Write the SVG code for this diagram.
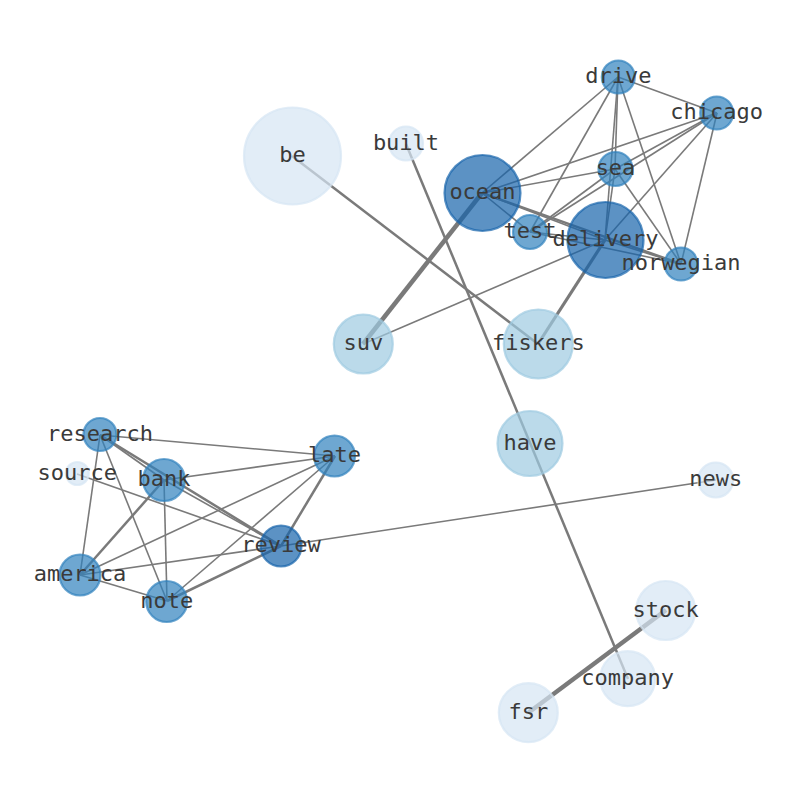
<svg xmlns="http://www.w3.org/2000/svg" width="794" height="790" viewBox="0 0 794 790">
<style>
.e{stroke:#7a7a7a;stroke-linecap:butt;fill:none}
.w1{stroke-width:1.6}
.w2{stroke-width:2.5}
.w3{stroke-width:3.2}
.w4{stroke-width:4.5}
.n circle{stroke-width:2.2;fill-opacity:0.7;stroke-opacity:0.7}
.d circle{fill:#1764ab;stroke:#1764ab}
.m circle{fill:#3182bd;stroke:#3182bd}
.l circle{fill:#9ecae1;stroke:#9ecae1}
.v circle{fill:#d6e6f4;stroke:#d6e6f4}
text{font-family:"DejaVu Sans Mono","Liberation Mono",monospace;font-size:22px;fill:#3a3a3a;text-anchor:middle}
</style>
<rect width="794" height="790" fill="#ffffff"/>
<g id="edges">
<line class="e w1" x1="618" y1="77" x2="717" y2="113"/>
<line class="e w1" x1="618" y1="77" x2="482" y2="193"/>
<line class="e w1" x1="618" y1="77" x2="530" y2="232"/>
<line class="e w1" x1="618" y1="77" x2="615" y2="169"/>
<line class="e w1" x1="618" y1="77" x2="605" y2="240"/>
<line class="e w1" x1="618" y1="77" x2="681" y2="264"/>
<line class="e w1" x1="717" y1="113" x2="482" y2="193"/>
<line class="e w1" x1="717" y1="113" x2="615" y2="169"/>
<line class="e w1" x1="717" y1="113" x2="530" y2="232"/>
<line class="e w1" x1="717" y1="113" x2="605" y2="240"/>
<line class="e w1" x1="717" y1="113" x2="681" y2="264"/>
<line class="e w1" x1="615" y1="169" x2="482" y2="193"/>
<line class="e w1" x1="615" y1="169" x2="530" y2="232"/>
<line class="e w1" x1="615" y1="169" x2="605" y2="240"/>
<line class="e w1" x1="615" y1="169" x2="681" y2="264"/>
<line class="e w1" x1="482" y1="193" x2="530" y2="232"/>
<line class="e w1" x1="482" y1="193" x2="605" y2="240"/>
<line class="e w2" x1="482" y1="193" x2="681" y2="264"/>
<line class="e w1" x1="530" y1="232" x2="605" y2="240"/>
<line class="e w1" x1="530" y1="232" x2="681" y2="264"/>
<line class="e w1" x1="605" y1="240" x2="681" y2="264"/>
<line class="e w4" x1="482" y1="193" x2="363" y2="344"/>
<line class="e w3" x1="605" y1="240" x2="538" y2="344"/>
<line class="e w1" x1="605" y1="240" x2="363" y2="344"/>
<line class="e w2" x1="292" y1="156" x2="538" y2="344"/>
<line class="e w2" x1="406" y1="144" x2="628" y2="679"/>
<line class="e w1" x1="100" y1="435" x2="335" y2="456"/>
<line class="e w2" x1="100" y1="435" x2="281" y2="546"/>
<line class="e w1" x1="100" y1="435" x2="164" y2="480"/>
<line class="e w1" x1="100" y1="435" x2="80" y2="575"/>
<line class="e w1" x1="100" y1="435" x2="167" y2="601"/>
<line class="e w1" x1="77" y1="474" x2="281" y2="546"/>
<line class="e w1" x1="164" y1="480" x2="335" y2="456"/>
<line class="e w1" x1="164" y1="480" x2="281" y2="546"/>
<line class="e w2" x1="164" y1="480" x2="80" y2="575"/>
<line class="e w1" x1="164" y1="480" x2="167" y2="601"/>
<line class="e w1" x1="335" y1="456" x2="80" y2="575"/>
<line class="e w1" x1="335" y1="456" x2="167" y2="601"/>
<line class="e w2" x1="335" y1="456" x2="281" y2="546"/>
<line class="e w1" x1="281" y1="546" x2="80" y2="575"/>
<line class="e w2" x1="281" y1="546" x2="167" y2="601"/>
<line class="e w1" x1="80" y1="575" x2="167" y2="601"/>
<line class="e w1" x1="281" y1="546" x2="716" y2="480"/>
<line class="e w4" x1="528" y1="713" x2="666" y2="610"/>
</g>
<g id="be" class="n v"><circle cx="292.5" cy="156" r="48.5"/><text x="292.5" y="162">be</text></g>
<g id="built" class="n v"><circle cx="406" cy="143.5" r="17"/><text x="406" y="149.5">built</text></g>
<g id="ocean" class="n d"><circle cx="482.5" cy="193" r="38"/><text x="482.5" y="199">ocean</text></g>
<g id="drive" class="n m"><circle cx="618.3" cy="77" r="16.5"/><text x="618.3" y="83">drive</text></g>
<g id="chicago" class="n m"><circle cx="716.7" cy="113" r="16.5"/><text x="716.7" y="119">chicago</text></g>
<g id="sea" class="n m"><circle cx="615.5" cy="169" r="17"/><text x="615.5" y="175">sea</text></g>
<g id="test" class="n m"><circle cx="530" cy="232" r="17"/><text x="530" y="238">test</text></g>
<g id="delivery" class="n d"><circle cx="605.5" cy="240" r="38"/><text x="605.5" y="246">delivery</text></g>
<g id="norwegian" class="n m"><circle cx="681" cy="264" r="16.5"/><text x="681" y="270">norwegian</text></g>
<g id="suv" class="n l"><circle cx="363.3" cy="344" r="29.5"/><text x="363.3" y="350">suv</text></g>
<g id="fiskers" class="n l"><circle cx="538.3" cy="344" r="34.5"/><text x="538.3" y="350">fiskers</text></g>
<g id="have" class="n l"><circle cx="530" cy="443.5" r="32.5"/><text x="530" y="449.5">have</text></g>
<g id="news" class="n v"><circle cx="715.7" cy="480" r="17.5"/><text x="715.7" y="486">news</text></g>
<g id="research" class="n m"><circle cx="100" cy="434.5" r="16.5"/><text x="100" y="440.5">research</text></g>
<g id="source" class="n v"><circle cx="77.3" cy="473.5" r="11.5"/><text x="77.3" y="479.5">source</text></g>
<g id="bank" class="n m"><circle cx="164" cy="480" r="21"/><text x="164" y="486">bank</text></g>
<g id="late" class="n m"><circle cx="334.5" cy="456" r="20.5"/><text x="334.5" y="462">late</text></g>
<g id="review" class="n d"><circle cx="281" cy="546" r="20.5"/><text x="281" y="552">review</text></g>
<g id="america" class="n m"><circle cx="80" cy="575" r="20.5"/><text x="80" y="581">america</text></g>
<g id="note" class="n m"><circle cx="166.7" cy="601.5" r="20.5"/><text x="166.7" y="607.5">note</text></g>
<g id="stock" class="n v"><circle cx="665.7" cy="610.5" r="29.5"/><text x="665.7" y="616.5">stock</text></g>
<g id="company" class="n v"><circle cx="627.7" cy="678.7" r="27.5"/><text x="627.7" y="684.7">company</text></g>
<g id="fsr" class="n v"><circle cx="528.3" cy="712.7" r="29.5"/><text x="528.3" y="718.7">fsr</text></g>
</svg>
